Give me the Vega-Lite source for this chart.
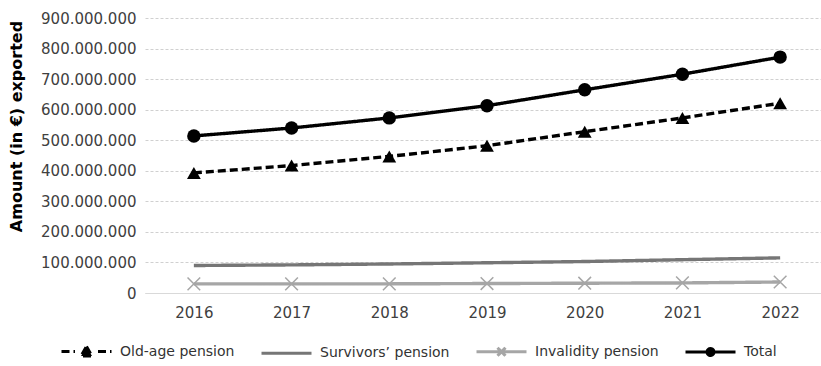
{
  "$schema": "https://vega.github.io/schema/vega-lite/v6.json",
  "width": 684,
  "height": 275,
  "autosize": {"type": "none"},
  "padding": {"left": 145, "top": 18, "right": 0, "bottom": 73},
  "background": "white",
  "config": {
    "locale": {"number": {"decimal": ",", "thousands": ".", "grouping": [3], "currency": ["", "€"]}},
    "view": {"stroke": null},
    "font": "DejaVu Sans"
  },
  "data": {
    "values": [
      {"year": "2016", "series": "Old-age pension", "amount": 393000000},
      {"year": "2017", "series": "Old-age pension", "amount": 417000000},
      {"year": "2018", "series": "Old-age pension", "amount": 447000000},
      {"year": "2019", "series": "Old-age pension", "amount": 482000000},
      {"year": "2020", "series": "Old-age pension", "amount": 528000000},
      {"year": "2021", "series": "Old-age pension", "amount": 573000000},
      {"year": "2022", "series": "Old-age pension", "amount": 621000000},
      {"year": "2016", "series": "Survivors’ pension", "amount": 90000000},
      {"year": "2017", "series": "Survivors’ pension", "amount": 92000000},
      {"year": "2018", "series": "Survivors’ pension", "amount": 95000000},
      {"year": "2019", "series": "Survivors’ pension", "amount": 99000000},
      {"year": "2020", "series": "Survivors’ pension", "amount": 103000000},
      {"year": "2021", "series": "Survivors’ pension", "amount": 109000000},
      {"year": "2022", "series": "Survivors’ pension", "amount": 115000000},
      {"year": "2016", "series": "Invalidity pension", "amount": 30000000},
      {"year": "2017", "series": "Invalidity pension", "amount": 30000000},
      {"year": "2018", "series": "Invalidity pension", "amount": 30000000},
      {"year": "2019", "series": "Invalidity pension", "amount": 31000000},
      {"year": "2020", "series": "Invalidity pension", "amount": 32000000},
      {"year": "2021", "series": "Invalidity pension", "amount": 33000000},
      {"year": "2022", "series": "Invalidity pension", "amount": 36000000},
      {"year": "2016", "series": "Total", "amount": 514000000},
      {"year": "2017", "series": "Total", "amount": 540000000},
      {"year": "2018", "series": "Total", "amount": 573000000},
      {"year": "2019", "series": "Total", "amount": 613000000},
      {"year": "2020", "series": "Total", "amount": 665000000},
      {"year": "2021", "series": "Total", "amount": 716000000},
      {"year": "2022", "series": "Total", "amount": 772000000}
    ]
  },
  "encoding": {
    "x": {
      "field": "year", "type": "ordinal",
      "scale": {"type": "point", "padding": 0.5},
      "axis": {
        "title": null, "labelAngle": 0, "ticks": false, "grid": false,
        "domainColor": "#d9d9d9", "domainWidth": 1,
        "labelFontSize": 15, "labelColor": "#404040", "labelPadding": 12
      }
    },
    "y": {
      "field": "amount", "type": "quantitative",
      "scale": {"domain": [0, 900000000]},
      "axis": {
        "title": "Amount (in €) exported",
        "values": [0, 100000000, 200000000, 300000000, 400000000, 500000000, 600000000, 700000000, 800000000, 900000000],
        "format": ",.0f",
        "ticks": false, "domain": false, "grid": true,
        "gridColor": "#d0d0d0", "gridDash": [3, 2], "gridWidth": 1,
        "labelFontSize": 15, "labelColor": "#404040", "labelPadding": 9,
        "titleFontSize": 16, "titleFontWeight": "bold", "titleColor": "#000000",
        "titleAngle": 270, "titleX": -129, "titleY": 108,
        "titleAlign": "center", "titleBaseline": "middle"
      }
    }
  },
  "layer": [
    {
      "mark": {"type": "line", "strokeCap": "butt", "strokeJoin": "round", "strokeWidth": 3.4},
      "encoding": {
        "color": {
          "field": "series", "type": "nominal",
          "scale": {
            "domain": ["Old-age pension", "Survivors’ pension", "Invalidity pension", "Total"],
            "range": ["#000000", "#767676", "#a6a6a6", "#000000"]
          },
          "legend": {
            "orient": "none", "legendX": -85, "legendY": 307,
            "direction": "horizontal", "columns": 4, "title": null,
            "columnPadding": 20,
            "labelFontSize": 14, "labelColor": "#333333", "labelOffset": 7,
            "symbolSize": 2500, "symbolStrokeWidth": 3,
            "encode": {
              "symbols": {
                "update": {
                  "shape": {
                    "signal": "datum.value === 'Old-age pension' ? 'M-1,0H-0.46M0.46,0H1M0,-0.2L0.22,0.18L-0.22,0.18Z' : datum.value === 'Invalidity pension' ? 'M-1,0H1M-0.16,-0.16L0.16,0.16M-0.16,0.16L0.16,-0.16' : datum.value === 'Total' ? 'M-1,0H1M0.14,0A0.14,0.14 0 1,1 -0.14,0A0.14,0.14 0 1,1 0.14,0Z' : 'M-1,0H1'"
                  },
                  "fill": {
                    "signal": "datum.value === 'Old-age pension' || datum.value === 'Total' ? '#000000' : 'transparent'"
                  },
                  "strokeWidth": {"value": 3}
                }
              }
            }
          }
        },
        "strokeDash": {
          "field": "series", "type": "nominal",
          "scale": {
            "domain": ["Old-age pension", "Survivors’ pension", "Invalidity pension", "Total"],
            "range": [[8, 4], [1, 0], [1, 0], [1, 0]]
          },
          "legend": null
        }
      }
    },
    {
      "transform": [{"filter": "datum.series === 'Old-age pension'"}],
      "mark": {"type": "point", "shape": "triangle-up", "filled": true, "color": "#000000", "size": 190, "opacity": 1}
    },
    {
      "transform": [{"filter": "datum.series === 'Total'"}],
      "mark": {"type": "point", "shape": "circle", "filled": true, "color": "#000000", "size": 180, "opacity": 1}
    },
    {
      "transform": [{"filter": "datum.series === 'Invalidity pension'"}],
      "mark": {"type": "point", "shape": "M-1,-1L1,1M-1,1L1,-1", "filled": false, "color": "#a6a6a6", "strokeWidth": 1.5, "size": 160, "opacity": 1}
    }
  ]
}
